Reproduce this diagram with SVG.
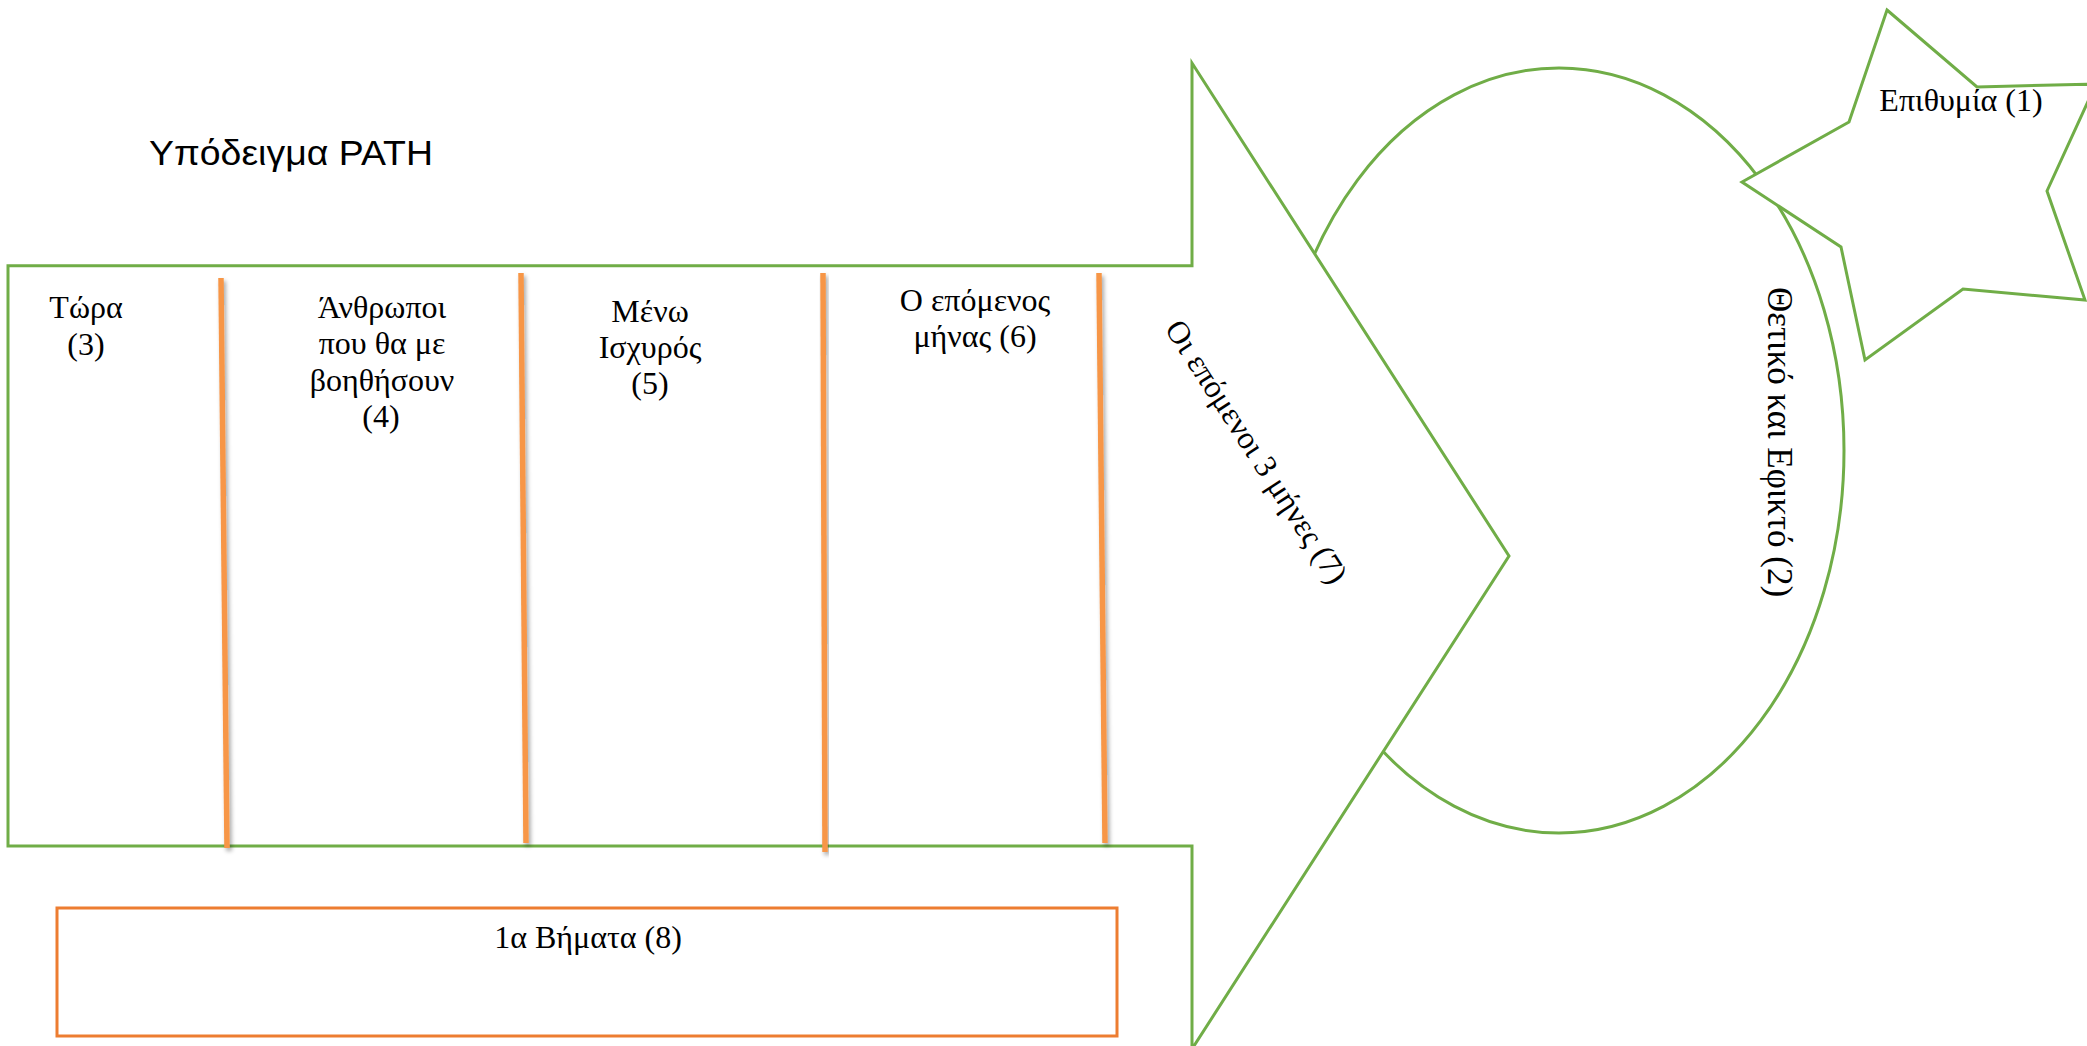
<svg xmlns="http://www.w3.org/2000/svg" width="2087" height="1046" viewBox="0 0 2087 1046">
  <defs>
    <filter id="sh" x="-200%" y="-5%" width="500%" height="110%">
      <feDropShadow dx="2" dy="3" stdDeviation="2.2" flood-color="#000" flood-opacity="0.35"/>
    </filter>
  </defs>
  <style>
    .g { fill:#ffffff; stroke:#70AD47; stroke-width:3; stroke-linejoin:miter; }
    .div { stroke:#F79646; stroke-width:5.5; filter:url(#sh); }
    .box { fill:#ffffff; stroke:#ED7D31; stroke-width:3; }
    .t { font-family:"Liberation Serif","Times New Roman",serif; font-size:32px; fill:#000000; text-anchor:middle; }
    .title { font-family:"Liberation Sans",Arial,sans-serif; font-size:35px; fill:#000000; }
  </style>
  <rect width="2087" height="1046" fill="#ffffff"/>

  <g id="goal-ellipse">
    <ellipse class="g" cx="1559" cy="450.5" rx="285" ry="382.5"/>
    <text class="t" font-size="35" transform="translate(1768,442) rotate(90)" style="font-size:35px">Θετικό και Εφικτό (2)</text>
  </g>

  <g id="dream-star">
    <polygon class="g" points="1887,10 1977,87 2096,84 2047,191 2085,300 1963,289 1865,360 1841,247 1742,182 1849,122"/>
    <text class="t" x="1961" y="111">Επιθυμία (1)</text>
  </g>

  <g id="path-arrow">
    <polygon class="g" points="8,265.7 1192,265.7 1192,63 1509,556 1192,1049 1192,846 8,846"/>
    <text class="t" transform="translate(1256,452) rotate(57)" y="10">Οι επόμενοι 3 μήνες (7)</text>
  </g>

  <g id="dividers">
    <line class="div" x1="221" y1="278" x2="227" y2="848"/>
    <line class="div" x1="521" y1="273" x2="526" y2="843"/>
    <line class="div" x1="823" y1="273" x2="825" y2="852"/>
    <line class="div" x1="1099" y1="273" x2="1105" y2="843"/>
  </g>

  <g id="now">
    <text class="t" x="86" y="318">Τώρα</text>
    <text class="t" x="86" y="355">(3)</text>
  </g>

  <g id="people">
    <text class="t" x="382" y="318">Άνθρωποι</text>
    <text class="t" x="382" y="354">που θα με</text>
    <text class="t" x="382" y="391">βοηθήσουν</text>
    <text class="t" x="381" y="427">(4)</text>
  </g>

  <g id="strong">
    <text class="t" x="650" y="322">Μένω</text>
    <text class="t" x="650" y="358">Ισχυρός</text>
    <text class="t" x="650" y="394">(5)</text>
  </g>

  <g id="next-month">
    <text class="t" x="975" y="311">Ο επόμενος</text>
    <text class="t" x="975" y="347">μήνας (6)</text>
  </g>

  <g id="first-steps">
    <rect class="box" x="57" y="908" width="1060" height="128"/>
    <text class="t" x="588" y="948">1α Βήματα (8)</text>
  </g>

  <g id="title">
    <text class="title" x="149" y="165" textLength="284" lengthAdjust="spacingAndGlyphs">Υπόδειγμα PATH</text>
  </g>
</svg>
